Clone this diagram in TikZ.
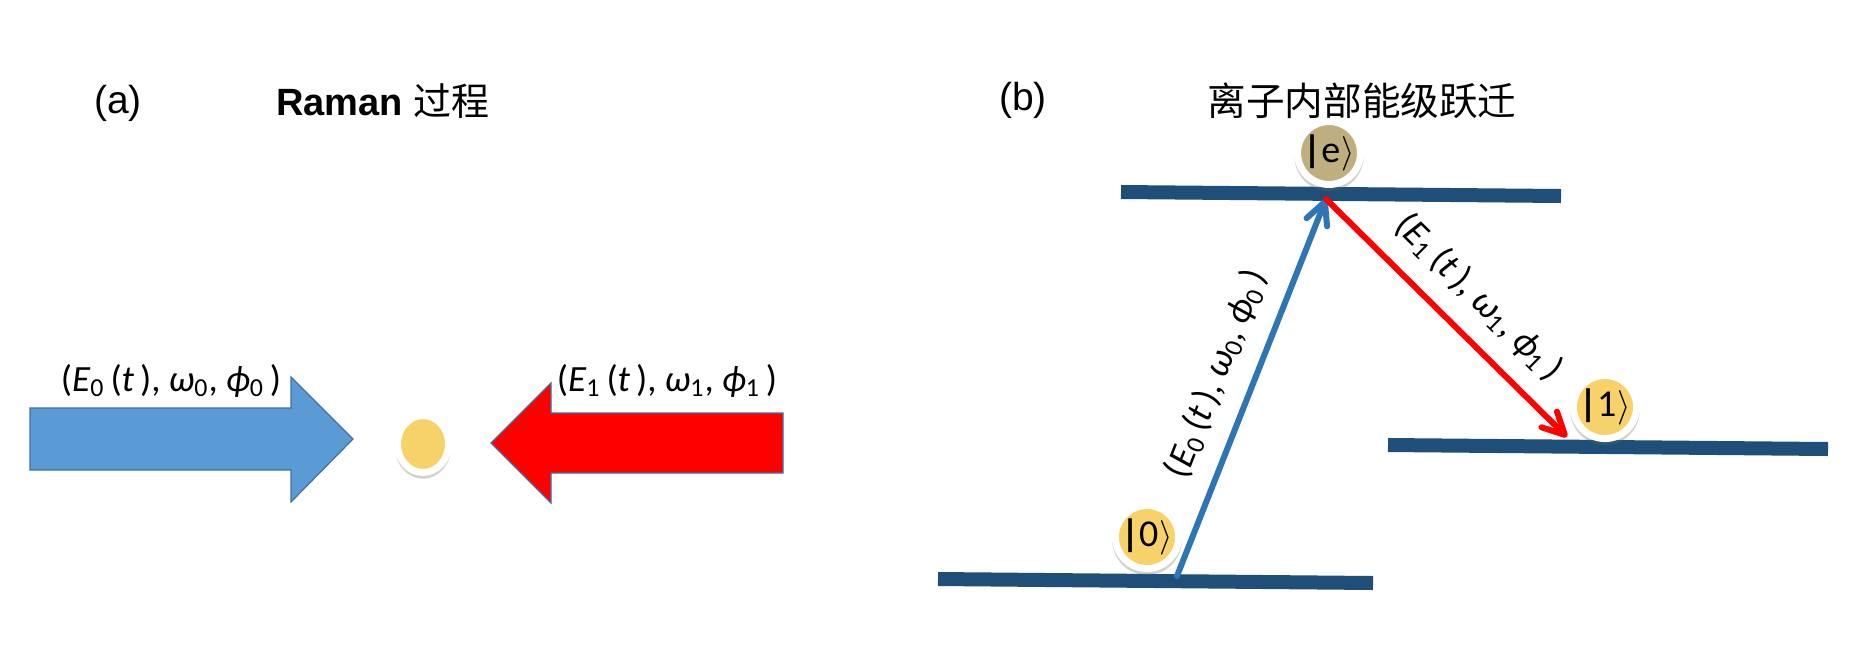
\documentclass[tikz,border=0pt]{standalone}
\usepackage{fontspec}
\setmainfont{Liberation Sans}
\newfontfamily\cjk{Noto Sans CJK SC}
\newfontfamily\cali{Carlito}
\usetikzlibrary{arrows.meta,shadows,shapes.geometric}

\definecolor{lvl}{RGB}{31,78,121}
\definecolor{bluefill}{RGB}{91,155,213}
\definecolor{blueedge}{RGB}{65,113,156}
\definecolor{transblue}{RGB}{46,117,182}
\definecolor{ionyellow}{RGB}{247,210,105}
\definecolor{ionbrown}{RGB}{191,175,127}

\newcommand{\fieldlab}[1]{{\cali\fontsize{18.5pt}{20pt}\selectfont (\textit{E}\textsubscript{#1}\hspace{3pt}(\textit{t}\hspace{3pt}),\hspace{4pt}\textit{ω}\textsubscript{#1},\hspace{4pt}\textit{ϕ}\textsubscript{#1}\hspace{3pt})}}
\newcommand{\ketlab}[1]{{\cali\fontsize{19pt}{20pt}\selectfont \textbf{|}#1\hspace{0.5pt}$\rangle$}}

\begin{document}
\begin{tikzpicture}[x=0.5pt,y=-0.5pt,
  level/.style={draw=lvl, line width=7pt},
  blockarrow/.style={draw=blueedge, line width=0.6pt, line join=miter},
  trans/.style={line width=3pt, line cap=round,
     -{Straight Barb[length=11pt,width=11pt,line cap=round,line join=round]}},
  ketshadow/.style={drop shadow={shadow xshift=0pt, shadow yshift=-1.5pt,
     opacity=0.3, fill=black!60, shadow scale=1.1}},
  ket/.style={circle, draw=white, line width=3.5pt, minimum size=26.5pt,
     inner sep=0pt, ketshadow},
  ion/.style={ellipse, draw=white, line width=3.5pt, fill=ionyellow,
     minimum width=25.5pt, minimum height=28.5pt, inner sep=0pt, ketshadow},
  title/.style={inner sep=0pt, font=\fontsize{19.5pt}{22pt}\selectfont},
  flab/.style={inner sep=0pt},
]
\useasboundingbox (0,0) rectangle (1874,644);
\fill[white] (0,0) rectangle (1874,644);

% ---------- panel (a) ----------
\node[title] (la) at (118,103) {(a)};
\node[title, font=\fontsize{19pt}{22pt}\selectfont] (ta) at (383,101) {\textbf{Raman} {\cjk 过程}};

\draw[blockarrow, fill=bluefill] (30,408) -- (291,408) -- (291,377) -- (353,439)
  -- (291,502) -- (291,470) -- (30,470) -- cycle;
\draw[blockarrow, fill=red] (783,413) -- (551,413) -- (551,383) -- (491,443)
  -- (551,503) -- (551,473) -- (783,473) -- cycle;

\node[flab] (f0) at (171,381) {\fieldlab{0}};
\node[flab] (f1) at (667,381) {\fieldlab{1}};

\node[ion] (ion) at (423,444) {};

% ---------- panel (b) ----------
\node[title] (lb) at (1023,100) {(b)};
\node[title, font=\fontsize{19.3pt}{22pt}\selectfont] (tb) at (1362,101) {\cjk 离子内部能级跃迁};

\coordinate (eL) at (1121,192);  \coordinate (eR) at (1561,196);
\coordinate (mL) at (1388,445);  \coordinate (mR) at (1828,449);
\coordinate (gL) at (938,579);   \coordinate (gR) at (1373,583);
\draw[level] (eL) -- (eR);
\draw[level] (mL) -- (mR);
\draw[level] (gL) -- (gR);

\coordinate (p0) at (1177,576);
\coordinate (pe) at (1326,199);
\coordinate (p1) at (1567,437);

\draw[trans, draw=transblue] (p0) -- node[flab, sloped, pos=0.5, above=9pt] {\fieldlab{0}} (pe);
\draw[trans, draw=red] (pe) -- node[flab, sloped, pos=0.525, above=9pt] {\fieldlab{1}} (p1);

\node[ket, fill=ionbrown] (ke) at (1329,153) {\ketlab{e}};
\node[ket, fill=ionyellow] (k0) at (1147,537) {\ketlab{0}};
\node[ket, fill=ionyellow] (k1) at (1605,407) {\ketlab{1}};
\end{tikzpicture}
\end{document}
